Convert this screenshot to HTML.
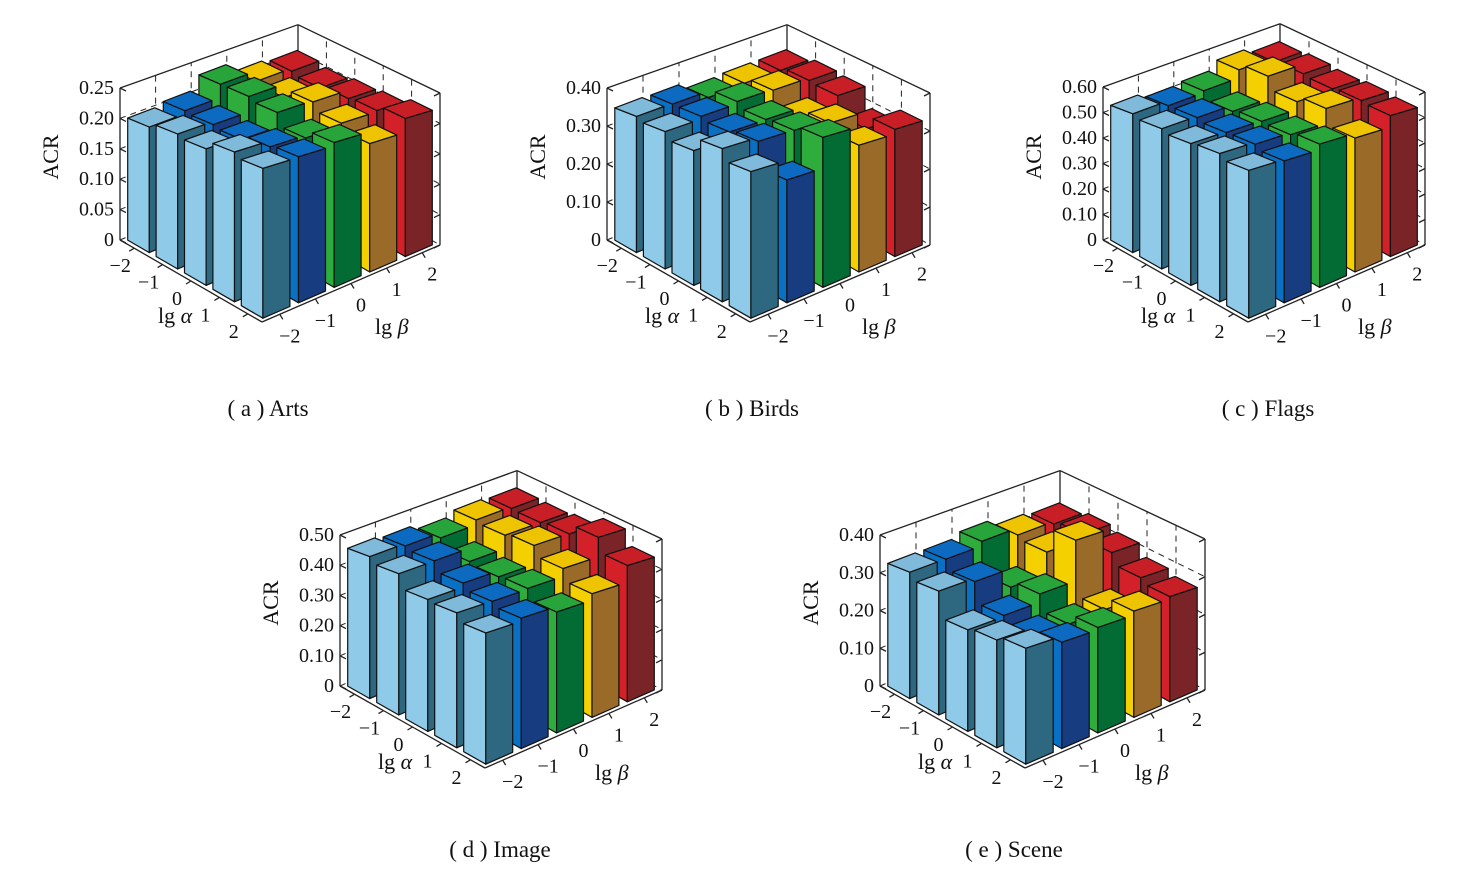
<!DOCTYPE html>
<html><head><meta charset="utf-8"><style>
html,body{margin:0;padding:0;background:#fff;}
svg{display:block;font-family:"Liberation Serif",serif;}
</style></head>
<body>
<svg id="chart" width="1473" height="878" viewBox="0 0 1473 878" xmlns="http://www.w3.org/2000/svg"></svg>
<script>
const alphaLabels = ["\u22122","\u22121","0","1","2"];
const betaLabels = ["\u22122","\u22121","0","1","2"];
// rows: lg alpha -2..2 ; columns: lg beta -2..2
const artsValues = [
  [0.200,0.205,0.227,0.210,0.205],
  [0.207,0.202,0.227,0.205,0.200],
  [0.202,0.198,0.221,0.219,0.205],
  [0.214,0.205,0.201,0.206,0.208],
  [0.207,0.208,0.213,0.195,0.217]
];
const birdsValues = [
  [0.347,0.345,0.328,0.331,0.330],
  [0.337,0.344,0.350,0.347,0.340],
  [0.319,0.335,0.336,0.311,0.336],
  [0.350,0.341,0.340,0.330,0.286],
  [0.324,0.280,0.353,0.308,0.320]
];
const flagsValues = [
  [0.527,0.508,0.515,0.547,0.526],
  [0.513,0.508,0.484,0.572,0.533],
  [0.500,0.497,0.494,0.523,0.527],
  [0.505,0.498,0.491,0.546,0.534],
  [0.487,0.482,0.502,0.485,0.528]
];
const imageValues = [
  [0.455,0.447,0.430,0.446,0.440],
  [0.436,0.437,0.394,0.438,0.438],
  [0.393,0.405,0.386,0.447,0.445],
  [0.388,0.387,0.390,0.415,0.478],
  [0.365,0.374,0.358,0.378,0.431]
];
const sceneValues = [
  [0.324,0.323,0.335,0.316,0.309],
  [0.306,0.297,0.249,0.306,0.319],
  [0.242,0.245,0.266,0.371,0.307],
  [0.248,0.229,0.225,0.229,0.278],
  [0.258,0.244,0.250,0.260,0.266]
];
const artsTicks = ["0","0.05","0.10","0.15","0.20","0.25"];
const birdsTicks = ["0","0.10","0.20","0.30","0.40"];
const flagsTicks = ["0","0.10","0.20","0.30","0.40","0.50","0.60"];
const imageTicks = ["0","0.10","0.20","0.30","0.40","0.50"];
const sceneTicks = ["0","0.10","0.20","0.30","0.40"];

const colors = [
  {l:"#8FCBE8",d:"#2E6880",t:"#80BADB"},
  {l:"#0A70C4",d:"#173C80",t:"#0C6BC0"},
  {l:"#2EAC3C",d:"#036C35",t:"#28A53A"},
  {l:"#F5D000",d:"#9A6A28",t:"#EEC400"},
  {l:"#D42028",d:"#7A2428",t:"#C81E26"}
];
const NS="http://www.w3.org/2000/svg";
const svg=document.getElementById('chart');
function mk(tag,attrs,parent){const e=document.createElementNS(NS,tag);for(const k in attrs)e.setAttribute(k,attrs[k]);(parent||svg).appendChild(e);return e;}

function drawPlot(cfg, values, ticks){
  const g=mk('g',{});
  
  
  const O=cfg.O, Au=[(cfg.F[0]-O[0])/5,(cfg.F[1]-O[1])/5], Bu=[(cfg.R[0]-cfg.F[0])/5,(cfg.R[1]-cfg.F[1])/5];
  const zmax=parseFloat(ticks[ticks.length-1]);
  const zs=cfg.zpx/zmax;
  const P=(a,b,z)=>{const f=1+0.04*a-0.014*b-0.0045*a*b;return [O[0]+a*Au[0]+b*Bu[0], O[1]+a*Au[1]+b*Bu[1]-z*zs*f];};
  const PB=(a,b,z)=>{const f=1+0.04*a-0.018*b-0.0044*a*b;return [O[0]+a*Au[0]+b*Bu[0], O[1]+a*Au[1]+b*Bu[1]-z*zs*f];};
  const pts=arr=>arr.map(p=>p[0].toFixed(1)+','+p[1].toFixed(1)).join(' ');
  const line=(p,q,dash,name)=>{const l=mk('line',{x1:p[0],y1:p[1],x2:q[0],y2:q[1],stroke:'#222','stroke-width':dash?1:1.3,'stroke-dasharray':dash?'6,5':'none'},g);
    
    };
  for(let k=1;k<ticks.length;k++){
    const z=parseFloat(ticks[k]);
    line(PB(0,0,z),PB(0,5,z),k<ticks.length-1,'grid-left-wall');
    line(PB(0,5,z),PB(5,5,z),k<ticks.length-1,'grid-right-wall');
  }
  for(let k=1;k<5;k++){
    line(PB(0,k,0),PB(0,k,zmax),true,'grid-back-vertical');
    line(PB(k,5,0),PB(k,5,zmax),true,'grid-side-vertical');
  }
  line(PB(0,0,0),PB(0,0,zmax),false,'z-axis');
  line(PB(0,5,0),PB(0,5,zmax),false,'back-edge');
  line(PB(5,5,0),PB(5,5,zmax),false,'right-edge');
  line(P(0,0,0),P(0,5,0),true,'floor-back');
  line(P(0,5,0),P(5,5,0),true,'floor-right-back');
  line(P(0,0,0),P(5,0,0),false,'alpha-axis');
  line(P(5,0,0),P(5,5,0),false,'beta-axis');
  ticks.forEach((t,k)=>{
    const z=parseFloat(t); const p=PB(0,0,z);
    line(p,[p[0]+6,p[1]+3],false,'z-tick');
    const q=PB(5,5,z);
    line(q,[q[0]-6,q[1]+3],false,'z-tick-right');
    const tx=mk('text',{x:p[0]-6,y:p[1]+6,'font-size':20,'text-anchor':'end',fill:'#111'},g);
    tx.textContent=t;
    
    
  });
  for(let i=0;i<5;i++){
    for(let j=4;j>=0;j--){
      const v=values[i][j]; const c=colors[j];
      const a0=i+0.12,a1=i+0.88,b0=j+0.12,b1=j+0.88;
      const bg=mk('g',{stroke:'#111','stroke-width':1.2,'stroke-linejoin':'round'},g);
      
      
      mk('polygon',{points:pts([P(a0,b0,0),P(a1,b0,0),P(a1,b0,v),P(a0,b0,v)]),fill:c.l},bg);
      mk('polygon',{points:pts([P(a1,b0,0),P(a1,b1,0),P(a1,b1,v),P(a1,b0,v)]),fill:c.d},bg);
      mk('polygon',{points:pts([P(a0,b0,v),P(a1,b0,v),P(a1,b1,v),P(a0,b1,v)]),fill:c.t},bg);
    }
  }
  alphaLabels.forEach((t,k)=>{
    const p=P(k+0.5,0,0);
    line(p,[p[0]-5,p[1]+3],false,'alpha-tick');
    const tx=mk('text',{x:p[0]-14,y:p[1]+24,'font-size':20,'text-anchor':'middle',fill:'#111'},g);
    tx.textContent=t;
    
    
  });
  betaLabels.forEach((t,k)=>{
    const p=P(5,k+0.5,0);
    line(p,[p[0]+3,p[1]+5],false,'beta-tick');
    const tx=mk('text',{x:p[0]+10,y:p[1]+28,'font-size':20,'text-anchor':'middle',fill:'#111'},g);
    tx.textContent=t;
    
    
  });
  const la=mk('text',{x:O[0]+38,y:O[1]+83,'font-size':22,fill:'#111'},g);
  la.innerHTML='lg <tspan font-style="italic">α</tspan>';
  
  
  const lb=mk('text',{x:O[0]+255,y:O[1]+94,'font-size':22,fill:'#111'},g);
  lb.innerHTML='lg <tspan font-style="italic">β</tspan>';
  
  
  const yt=mk('text',{x:0,y:0,'font-size':22,'text-anchor':'middle',fill:'#111',transform:'translate('+(O[0]-62)+','+(O[1]-83)+') rotate(-90)'},g);
  yt.textContent='ACR';
  
  
  const cap=mk('text',{x:cfg.cap[0],y:cfg.cap[1],'font-size':23,'text-anchor':'middle',fill:'#111'},g);
  cap.textContent=cfg.caption;
  
  
}

drawPlot({name:'arts',O:[120,240],F:[262,322],R:[440,245],zpx:152,cap:[268,416],caption:'( a ) Arts'},artsValues,artsTicks);
drawPlot({name:'birds',O:[607,240],F:[750,322],R:[930,245],zpx:152,cap:[752,416],caption:'( b ) Birds'},birdsValues,birdsTicks);
drawPlot({name:'flags',O:[1103,240],F:[1248,322],R:[1425,245],zpx:153,cap:[1268,416],caption:'( c ) Flags'},flagsValues,flagsTicks);
drawPlot({name:'image',O:[340,686],F:[485,768],R:[662,690],zpx:151,cap:[500,857],caption:'( d ) Image'},imageValues,imageTicks);
drawPlot({name:'scene',O:[880,686],F:[1025,768],R:[1205,690],zpx:151,cap:[1014,857],caption:'( e ) Scene'},sceneValues,sceneTicks);
</script>
</body></html>
